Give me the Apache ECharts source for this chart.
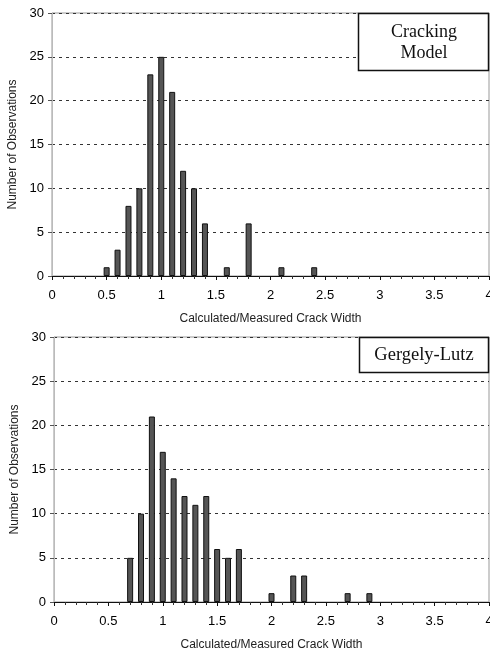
<!DOCTYPE html>
<html>
<head>
<meta charset="utf-8">
<script src="https://cdn.jsdelivr.net/npm/echarts@6/dist/echarts.min.js"></script>
<style>
html,body{margin:0;padding:0;background:#fff;}
#c{width:490px;height:653px;}
</style>
</head>
<body>
<div id="c"></div>
<script>
const crackX = [0.5, 0.6, 0.7, 0.8, 0.9, 1.0, 1.1, 1.2, 1.3, 1.4, 1.6, 1.8, 2.1, 2.4];
const crackY = [1, 3, 8, 10, 23, 25, 21, 12, 10, 6, 1, 6, 1, 1];
const glX = [0.7, 0.8, 0.9, 1.0, 1.1, 1.2, 1.3, 1.4, 1.5, 1.6, 1.7, 2.0, 2.2, 2.3, 2.7, 2.9];
const glY = [5, 10, 21, 17, 14, 12, 11, 12, 6, 5, 6, 1, 3, 3, 1, 1];
const xTitle = 'Calculated/Measured Crack Width';
const yTitle = 'Number of Observations';
const boxTop = 'Cracking\nModel';
const boxBottom = 'Gergely-Lutz';

const FONT = 'Liberation Sans';
const SERIF = 'Liberation Serif';

function pairs(xs, ys) { return xs.map((x, i) => [x, ys[i]]); }

function xAxis(gi) {
  return {
    type: 'value', gridIndex: gi, min: 0, max: 4, interval: 0.5,
    name: xTitle, nameLocation: 'middle', nameGap: 37,
    nameTextStyle: { fontFamily: FONT, fontSize: 12, color: '#222' },
    axisLine: { show: true, lineStyle: { color: '#111', width: 1 } },
    axisTick: { show: true, length: 4, lineStyle: { color: '#111' } },
    minorTick: { show: true, splitNumber: 5, length: 3, lineStyle: { color: '#333' } },
    axisLabel: { fontFamily: FONT, fontSize: 13, color: '#000', margin: 13 },
    splitLine: { show: false }
  };
}
function yAxis(gi, gap) {
  return {
    type: 'value', gridIndex: gi, min: 0, max: 30, interval: 5,
    name: yTitle, nameLocation: 'middle', nameGap: gap, nameRotate: 90,
    nameTextStyle: { fontFamily: FONT, fontSize: 12, color: '#222' },
    axisLine: { show: true, lineStyle: { color: '#bbb', width: 1 } },
    axisTick: { show: true, length: 4, lineStyle: { color: '#555' } },
    axisLabel: { fontFamily: FONT, fontSize: 13, color: '#000', margin: 8 },
    splitLine: { show: true, lineStyle: { color: '#333', type: [3, 4], width: 1 } }
  };
}
function barSeries(i, xs, ys) {
  return {
    type: 'bar', xAxisIndex: i, yAxisIndex: i,
    data: pairs(xs, ys), barWidth: 6,
    itemStyle: { color: '#555', borderColor: '#111', borderWidth: 1 },
    silent: true, animation: false
  };
}

const chart = echarts.init(document.getElementById('c'), null, { renderer: 'canvas' });
chart.setOption({
  animation: false,
  backgroundColor: '#fff',
  grid: [
    { left: 52, top: 13, width: 437, height: 263, show: true, borderColor: '#999', borderWidth: 1, containLabel: false, outerBoundsMode: 'none' },
    { left: 54, top: 337, width: 435, height: 265, show: true, borderColor: '#999', borderWidth: 1, containLabel: false, outerBoundsMode: 'none' }
  ],
  xAxis: [xAxis(0), xAxis(1)],
  yAxis: [yAxis(0, 28), yAxis(1, 29)],
  series: [barSeries(0, crackX, crackY), barSeries(1, glX, glY)],
  graphic: [
    { type: 'rect', shape: { x: 358.5, y: 13.5, width: 130, height: 57 },
      style: { fill: '#fff', stroke: '#111', lineWidth: 1.5 }, z: 100 },
    { type: 'text', x: 424, y: 43, z: 101,
      style: { text: boxTop, fontFamily: SERIF, fontSize: 18, fill: '#111', align: 'center', verticalAlign: 'middle', lineHeight: 21 } },
    { type: 'rect', shape: { x: 359.5, y: 337.5, width: 129, height: 35 },
      style: { fill: '#fff', stroke: '#111', lineWidth: 1.5 }, z: 100 },
    { type: 'text', x: 424, y: 355, z: 101,
      style: { text: boxBottom, fontFamily: SERIF, fontSize: 18.5, fill: '#111', align: 'center', verticalAlign: 'middle' } }
  ]
});
</script>
</body>
</html>
